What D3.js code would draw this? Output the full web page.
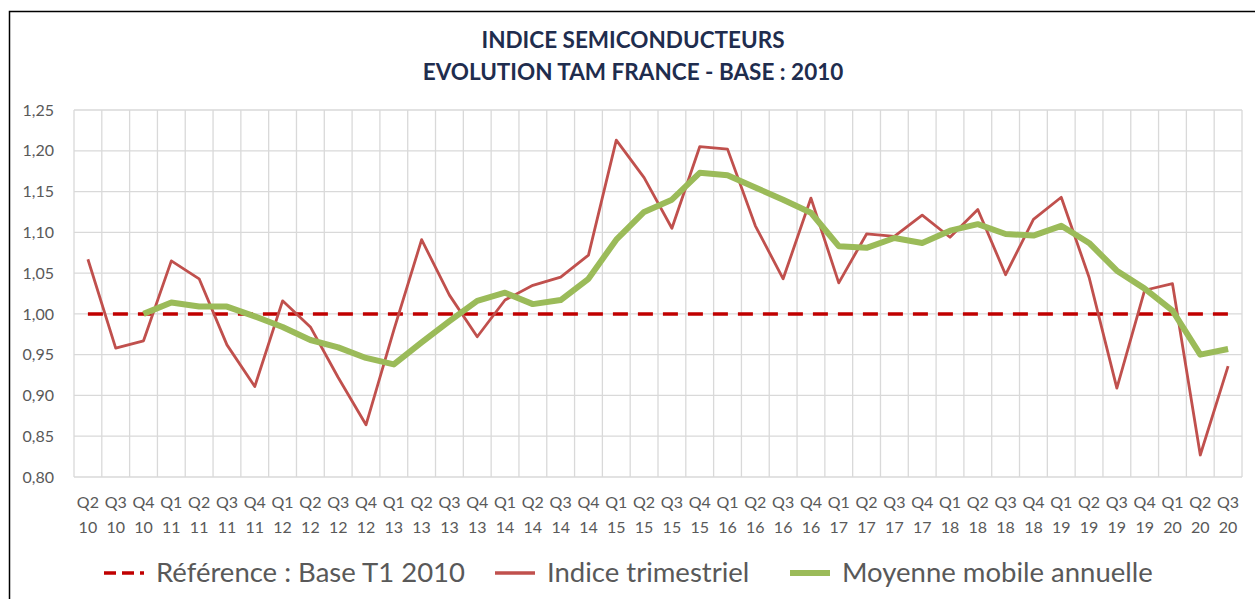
<!DOCTYPE html>
<html>
<head>
<meta charset="utf-8">
<script src="https://cdn.jsdelivr.net/npm/d3@7"></script>
<style>
  body { margin: 0; background: #fff; }
  svg { display: block; }
</style>
</head>
<body>
<div id="chart"></div>
<script>
// ---- data ----
const quarters = ["Q2","Q3","Q4",
  "Q1","Q2","Q3","Q4", "Q1","Q2","Q3","Q4", "Q1","Q2","Q3","Q4",
  "Q1","Q2","Q3","Q4", "Q1","Q2","Q3","Q4", "Q1","Q2","Q3","Q4",
  "Q1","Q2","Q3","Q4", "Q1","Q2","Q3","Q4", "Q1","Q2","Q3","Q4",
  "Q1","Q2","Q3"];
const years = ["10","10","10",
  "11","11","11","11", "12","12","12","12", "13","13","13","13",
  "14","14","14","14", "15","15","15","15", "16","16","16","16",
  "17","17","17","17", "18","18","18","18", "19","19","19","19",
  "20","20","20"];
const indiceTrimestriel = [1.067, 0.958, 0.967,
  1.065, 1.043, 0.962, 0.911, 1.016, 0.984, 0.922, 0.864,
  0.980, 1.091, 1.023, 0.972, 1.017, 1.035, 1.045, 1.072,
  1.213, 1.167, 1.105, 1.205, 1.202, 1.108, 1.043, 1.142,
  1.038, 1.098, 1.095, 1.121, 1.094, 1.128, 1.048, 1.116,
  1.143, 1.045, 0.909, 1.029, 1.037, 0.827, 0.936];
const moyenneMobile = [null, null, 1.000,
  1.014, 1.009, 1.009, 0.997, 0.984, 0.968, 0.959, 0.946,
  0.938, 0.965, 0.991, 1.016, 1.026, 1.012, 1.017, 1.043,
  1.091, 1.125, 1.140, 1.173, 1.170, 1.155, 1.140, 1.124,
  1.083, 1.081, 1.093, 1.087, 1.102, 1.110, 1.098, 1.096,
  1.108, 1.087, 1.053, 1.031, 1.004, 0.950, 0.957];
const reference = quarters.map(() => 1.0);
const yTicks = [0.80, 0.85, 0.90, 0.95, 1.00, 1.05, 1.10, 1.15, 1.20, 1.25];
const titleLines = ["INDICE SEMICONDUCTEURS", "EVOLUTION TAM FRANCE - BASE : 2010"];

const W = 1255, H = 599;
const margin = { top: 110, right: 13, bottom: 122, left: 74 };
const width = W - margin.left - margin.right,
      height = H - margin.top - margin.bottom;
const font = "Lato, 'Open Sans', sans-serif";

const svg = d3.select("#chart").append("svg")
    .attr("width", W).attr("height", H);

// outer frame (right/bottom edges fall outside the picture)
svg.append("rect")
    .attr("x", 9.5).attr("y", 11.5)
    .attr("width", 1270).attr("height", 620)
    .attr("fill", "none").attr("stroke", "#000").attr("stroke-width", 1.5);

const g = svg.append("g")
    .attr("transform", "translate(" + margin.left + "," + margin.top + ")");

const idx = quarters.map((d, i) => i);
const x = d3.scaleBand().domain(idx).range([0, width]);
const y = d3.scaleLinear().domain([0.80, 1.25]).range([height, 0]);
const cx = i => x(i) + x.bandwidth() / 2;

// ---- grid ----
g.append("g").selectAll("line")
    .data(yTicks).join("line")
    .attr("x1", 0).attr("x2", width)
    .attr("y1", d => y(d)).attr("y2", d => y(d))
    .attr("stroke", "#d9d9d9").attr("stroke-width", 1.3);

g.append("g").selectAll("line")
    .data(idx.concat([idx.length])).join("line")
    .attr("x1", i => i < idx.length ? x(i) : width)
    .attr("x2", i => i < idx.length ? x(i) : width)
    .attr("y1", 0).attr("y2", height)
    .attr("stroke", "#d9d9d9").attr("stroke-width", 1.3);

// ---- axes ----
const yAxis = d3.axisLeft(y).tickValues(yTicks).tickSize(0).tickPadding(20)
    .tickFormat(d => d3.format(".2f")(d).replace(".", ","));
const yAxisGroup = g.append("g").call(yAxis);
yAxisGroup.select(".domain").remove();
yAxisGroup.selectAll("text")
    .style("font-family", font).style("font-size", "16px").attr("fill", "#595959");

const xAxis = d3.axisBottom(x).tickSize(0).tickFormat(() => "");
const xAxisGroup = g.append("g")
    .attr("transform", "translate(0," + height + ")").call(xAxis);
xAxisGroup.select(".domain").remove();
xAxisGroup.selectAll(".tick text").each(function(i) {
    const t = d3.select(this)
        .style("font-family", font).style("font-size", "16px")
        .attr("fill", "#595959").attr("y", 0).attr("dy", null);
    t.append("tspan").attr("x", 0).attr("y", 31).text(quarters[i]);
    t.append("tspan").attr("x", 0).attr("y", 56).text(years[i]);
});

// ---- lines ----
const line = d3.line()
    .defined(d => d != null)
    .x((d, i) => cx(i))
    .y(d => y(d));

g.append("path").datum(reference)
    .attr("d", line)
    .attr("fill", "none").attr("stroke", "#c00000")
    .attr("stroke-width", 3.5).attr("stroke-dasharray", "15,10");

g.append("path").datum(indiceTrimestriel)
    .attr("d", line)
    .attr("fill", "none").attr("stroke", "#c0504d")
    .attr("stroke-width", 2.8).attr("stroke-linejoin", "round");

g.append("path").datum(moyenneMobile)
    .attr("d", line)
    .attr("fill", "none").attr("stroke", "#9bbb59")
    .attr("stroke-width", 6).attr("stroke-linejoin", "round");

// ---- title ----
svg.append("g").selectAll("text")
    .data(titleLines).join("text")
    .attr("x", 633).attr("y", (d, i) => 48 + i * 32)
    .attr("text-anchor", "middle")
    .style("font-family", font).style("font-weight", "bold").style("font-size", "22.5px")
    .attr("fill", "#1f2d4e")
    .text(d => d);

// ---- legend ----
const legendItems = [
    { label: "Référence : Base T1 2010", color: "#c00000", w: 3.5, dash: "12,6", x: 104 },
    { label: "Indice trimestriel", color: "#c0504d", w: 3.5, dash: null, x: 495 },
    { label: "Moyenne mobile annuelle", color: "#9bbb59", w: 6, dash: null, x: 790 }
];
const legend = svg.append("g").selectAll("g")
    .data(legendItems).join("g")
    .attr("transform", d => "translate(" + d.x + ",573)");
legend.append("line")
    .attr("x1", 0).attr("x2", 40).attr("y1", 0).attr("y2", 0)
    .attr("stroke", d => d.color).attr("stroke-width", d => d.w)
    .attr("stroke-dasharray", d => d.dash);
legend.append("text")
    .attr("x", 52).attr("y", 9)
    .style("font-family", font).style("font-size", "27.5px")
    .attr("fill", "#595959")
    .text(d => d.label);
</script>
</body>
</html>
